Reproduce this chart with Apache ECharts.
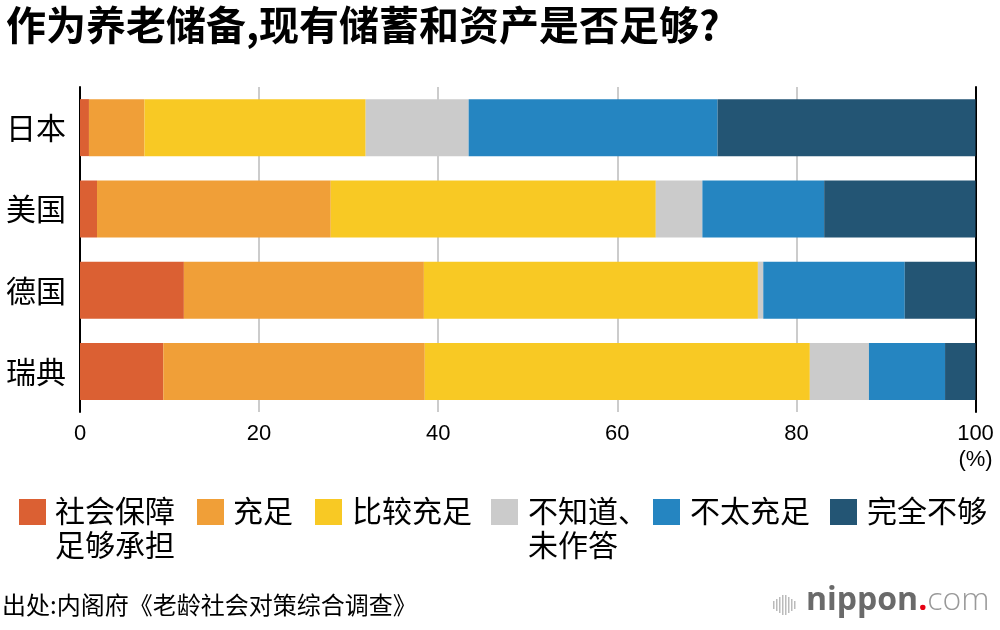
<!DOCTYPE html>
<html>
<head>
<meta charset="utf-8">
<script src="https://cdn.jsdelivr.net/npm/echarts@6/dist/echarts.min.js"></script>
<style>
  html, body { margin: 0; padding: 0; background: #fff; }
  #chart { width: 1000px; height: 630px; }
</style>
</head>
<body>
<div id="chart"></div>
<script>
var countries = ['日本', '美国', '德国', '瑞典'];
var seriesNames = ['社会保障\n足够承担', '充足', '比较充足', '不知道、\n未作答', '不太充足', '完全不够'];
var colors = ['#DB6033', '#F09F38', '#F8C924', '#CBCBCB', '#2585C1', '#235574'];

// 各国回答比例(%)
var socialSecurity = [1.0, 1.9, 11.6, 9.3];
var enough = [6.2, 26.1, 26.8, 29.2];
var fairlyEnough = [24.7, 36.3, 37.3, 43.0];
var noAnswer = [11.5, 5.2, 0.6, 6.6];
var notQuite = [27.8, 13.6, 15.8, 8.5];
var notAtAll = [28.8, 16.9, 7.9, 3.4];
var seriesValues = [socialSecurity, enough, fairlyEnough, noAnswer, notQuite, notAtAll];

var cjk = '"Noto Sans CJK SC", "Noto Sans", sans-serif';
var chart = echarts.init(document.getElementById('chart'));

var series = [];
for (var i = 0; i < seriesNames.length; i++) {
    series.push({
        name: seriesNames[i],
        type: 'bar',
        stack: 'total',
        barWidth: 57,
        yAxisIndex: 0,
        itemStyle: { color: colors[i] },
        data: seriesValues[i]
    });
}

// 图例(手动排版,第一行与色块对齐)
var legendSquareX = [19, 197, 315, 491, 653, 830];
var legendTextX = [55, 233, 352, 528, 690, 867];
var graphics = [];
for (var i = 0; i < seriesNames.length; i++) {
    graphics.push({
        type: 'rect',
        left: legendSquareX[i], top: 499,
        shape: { width: 27, height: 26 },
        style: { fill: colors[i] }
    });
    graphics.push({
        type: 'text',
        left: legendTextX[i], top: 494,
        style: {
            text: seriesNames[i],
            font: '30px ' + cjk,
            lineHeight: 34,
            fill: '#000'
        }
    });
}

// 出处
graphics.push({
    type: 'text',
    left: 2, top: 593,
    style: { text: '出处:内阁府《老龄社会对策综合调查》', font: '24px ' + cjk, fill: '#000' }
});

// nippon.com 标志
var barHeights = [8, 12, 16, 20, 20, 16, 12, 8];
for (var i = 0; i < barHeights.length; i++) {
    graphics.push({
        type: 'rect',
        left: 773 + i * 3, top: 605 - barHeights[i] / 2,
        shape: { width: 1.5, height: barHeights[i] },
        style: { fill: '#bbbbbb' }
    });
}
graphics.push({
    type: 'text',
    left: 806, top: 585,
    style: {
        text: '{a|nippon}{b|.}{c|com}',
        rich: {
            a: { font: 'bold 32px "Open Sans", sans-serif', fill: '#6a6a6a' },
            b: { font: 'bold 32px "Open Sans", sans-serif', fill: '#e60012' },
            c: { font: '300 32px "Open Sans", sans-serif', fill: '#999999' }
        }
    }
});

var option = {
    backgroundColor: '#fff',
    animation: false,
    title: {
        text: '作为养老储备,现有储蓄和资产是否足够?',
        left: 1,
        top: 0,
        textStyle: { fontFamily: cjk, fontSize: 40, fontWeight: 'bold', color: '#000' }
    },
    grid: { left: 80, right: 24.5, top: 87, bottom: 218 },
    xAxis: {
        type: 'value',
        min: 0,
        max: 100,
        interval: 20,
        axisLine: { show: false },
        axisTick: { show: false },
        splitLine: { lineStyle: { color: '#cccccc', width: 2 } },
        axisLabel: {
            margin: 9,
            fontSize: 22,
            lineHeight: 26,
            fontFamily: '"Liberation Sans", Arial, sans-serif',
            color: '#000',
            formatter: function (v) {
                return v === 100 ? '100\n(%)' : String(v);
            }
        }
    },
    yAxis: [{
        type: 'category',
        inverse: true,
        data: countries,
        axisLine: { lineStyle: { color: '#000', width: 2 } },
        axisTick: { show: false },
        axisLabel: { margin: 14, fontSize: 30, fontFamily: cjk, color: '#000' }
    }, {
        type: 'category',
        inverse: true,
        position: 'right',
        data: countries,
        axisLine: { lineStyle: { color: '#000', width: 2 } },
        axisTick: { show: false },
        axisLabel: { show: false }
    }],
    series: series,
    graphic: graphics
};

chart.setOption(option);
</script>
</body>
</html>
